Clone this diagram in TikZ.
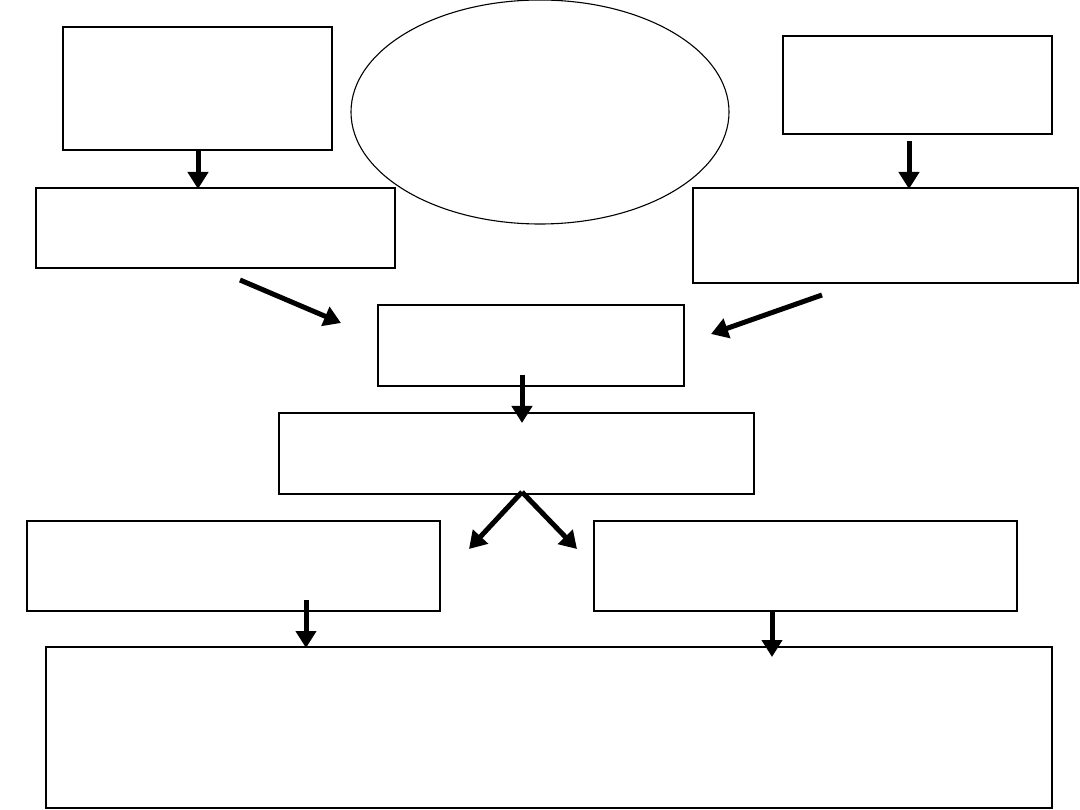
\documentclass[tikz,border=0pt]{standalone}
\usetikzlibrary{shapes.geometric,arrows.meta}
\begin{document}
\begin{tikzpicture}[x=1pt,y=-1pt,
  box/.style={draw=black,line width=2.4pt,rectangle,anchor=north west,inner sep=0pt,outer sep=0pt},
  thinbox/.style={box,line width=1.5pt},
  oval/.style={draw=black,line width=1.1pt,ellipse,inner sep=0pt},
  bigarrow/.style={line width=5pt,-{Triangle[width=20pt,length=17pt]}}]
\useasboundingbox (0,0) rectangle (1080,810);
\node[box,minimum width=269pt,minimum height=123pt] (tl) at (63,27) {};
\node[oval,minimum width=378pt,minimum height=224pt] (ov) at (540,112) {};
\node[box,minimum width=269pt,minimum height=98pt] (tr) at (783,36) {};
\node[box,minimum width=359pt,minimum height=80pt] (ml) at (36,188) {};
\node[box,minimum width=385pt,minimum height=95pt] (mr) at (693,188) {};
\node[box,line width=2pt,minimum width=306pt,minimum height=81pt] (ct) at (378,305) {};
\node[thinbox,minimum width=475pt,minimum height=81pt] (wd) at (279,413) {};
\node[box,minimum width=413pt,minimum height=90pt] (bl) at (27,521) {};
\node[box,minimum width=423pt,minimum height=90pt] (br) at (594,521) {};
\node[box,minimum width=1006pt,minimum height=161pt] (bt) at (46,647) {};
% arrow end points
\coordinate (a1s) at (198,150); \coordinate (a1e) at (198,189);
\coordinate (a2s) at (909,141); \coordinate (a2e) at (909,189);
\coordinate (a3s) at (240,280); \coordinate (a3e) at (341,323);
\coordinate (a4s) at (822,295); \coordinate (a4e) at (711,334);
\coordinate (a5s) at (522,375); \coordinate (a5e) at (522,423);
\coordinate (fork) at (522,492);
\coordinate (a6e) at (469,549); \coordinate (a7e) at (577,549);
\coordinate (a8s) at (306,600); \coordinate (a8e) at (306,648);
\coordinate (a9s) at (772,610); \coordinate (a9e) at (772,657);
\draw[bigarrow] (a1s) -- (a1e);
\draw[bigarrow] (a2s) -- (a2e);
\draw[bigarrow] (a3s) -- (a3e);
\draw[bigarrow] (a4s) -- (a4e);
\draw[bigarrow] (a5s) -- (a5e);
\draw[bigarrow] (fork) -- (a6e);
\draw[bigarrow] (fork) -- (a7e);
\draw[bigarrow] (a8s) -- (a8e);
\draw[bigarrow] (a9s) -- (a9e);
\end{tikzpicture}
\end{document}
